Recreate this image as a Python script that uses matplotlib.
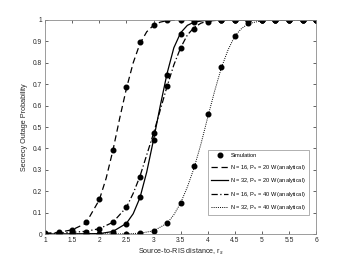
import numpy as np
import matplotlib
matplotlib.use("Agg")
import matplotlib.pyplot as plt

plt.rcParams['font.family'] = ['Liberation Sans', 'DejaVu Sans']

# simulation points (every 0.25 from 1 to 6)
x_sim = np.arange(1, 6.01, 0.25)
sim_16_20 = [0.003, 0.008, 0.02, 0.055, 0.165, 0.395, 0.685, 0.895, 0.978, 0.998, 1, 1,
             1, 1, 1, 1, 1, 1, 1, 1, 1]
sim_32_20 = [0, 0, 0, 0.001, 0.002, 0.01, 0.045, 0.174, 0.44, 0.745, 0.935, 0.99,
             1, 1, 1, 1, 1, 1, 1, 1, 1]
sim_16_40 = [0.002, 0.005, 0.01, 0.012, 0.022, 0.055, 0.127, 0.268, 0.47, 0.693, 0.868, 0.958,
             0.99, 1, 1, 1, 1, 1, 1, 1, 1]
sim_32_40 = [0, 0, 0, 0, 0, 0, 0.001, 0.003, 0.015, 0.052, 0.146, 0.319,
             0.56, 0.78, 0.925, 0.985, 1, 1, 1, 1, 1]

# analytical curves
xa_16_20 = [1, 1.25, 1.5, 1.75, 2, 2.125, 2.25, 2.375, 2.5, 2.625, 2.75, 2.875, 3, 3.125, 3.25, 3.5, 6]
ya_16_20 = [0.003, 0.008, 0.02, 0.05, 0.16, 0.26, 0.39, 0.54, 0.68, 0.80, 0.89, 0.945, 0.975, 0.99, 0.997, 1, 1]

xa_32_20 = [1, 2, 2.25, 2.5, 2.625, 2.75, 2.875, 3, 3.125, 3.25, 3.375, 3.5, 3.625, 3.75, 4, 6]
ya_32_20 = [0, 0.002, 0.012, 0.05, 0.095, 0.17, 0.29, 0.44, 0.60, 0.75, 0.87, 0.94, 0.975, 0.99, 1, 1]

xa_16_40 = [1, 1.5, 1.75, 2, 2.25, 2.5, 2.625, 2.75, 2.875, 3, 3.125, 3.25, 3.375, 3.5, 3.625, 3.75, 3.875, 4, 4.25, 6]
ya_16_40 = [0.002, 0.008, 0.013, 0.025, 0.055, 0.125, 0.19, 0.27, 0.37, 0.47, 0.58, 0.69, 0.79, 0.87, 0.93, 0.965, 0.985, 0.995, 1, 1]

xa_32_40 = [1, 2.5, 2.75, 3, 3.25, 3.375, 3.5, 3.625, 3.75, 3.875, 4, 4.125, 4.25, 4.375, 4.5, 4.625, 4.75, 5, 5.25, 6]
ya_32_40 = [0, 0.001, 0.004, 0.015, 0.05, 0.09, 0.145, 0.22, 0.31, 0.42, 0.545, 0.665, 0.775, 0.86, 0.925, 0.96, 0.983, 0.997, 1, 1]

labels = ["N = 16, P$_s$ = 20 W (analytical)",
          "N = 32, P$_s$ = 20 W (analytical)",
          "N = 16, P$_s$ = 40 W (analytical)",
          "N = 32, P$_s$ = 40 W (analytical)"]

fig = plt.figure(figsize=(3.5, 2.63), dpi=100)
ax = fig.add_axes([0.129, 0.110, 0.774, 0.814])

lw = 0.9
ms = 3.3
h_sim, = ax.plot(x_sim, sim_16_20, 'o', color='k', ms=ms, ls='none', label="Simulation")
for s in (sim_32_20, sim_16_40, sim_32_40):
    ax.plot(x_sim, s, 'o', color='k', ms=ms, ls='none')

h1, = ax.plot(xa_16_20, ya_16_20, color='k', lw=lw, ls=(0, (5, 3)), label=labels[0])
h2, = ax.plot(xa_32_20, ya_32_20, color='k', lw=lw, ls='-', label=labels[1])
h3, = ax.plot(xa_16_40, ya_16_40, color='k', lw=lw, ls=(0, (5, 2, 1, 2)), label=labels[2])
h4, = ax.plot(xa_32_40, ya_32_40, color='k', lw=0.7, ls=(0, (1, 1.2)), label=labels[3])

ax.set_xlim(1, 6)
ax.set_ylim(0, 1)
ax.set_xticks(np.arange(1, 6.01, 0.5))
ax.set_xticklabels(["1", "1.5", "2", "2.5", "3", "3.5", "4", "4.5", "5", "5.5", "6"])
ax.set_yticks(np.arange(0, 1.01, 0.1))
ax.set_yticklabels(["0", "0.1", "0.2", "0.3", "0.4", "0.5", "0.6", "0.7", "0.8", "0.9", "1"])
ax.tick_params(direction='in', top=True, right=True, length=2.5, width=0.5,
               labelsize=4.8, colors='#262626', pad=2)
for sp in ax.spines.values():
    sp.set_color('#8c8c8c')
    sp.set_linewidth(0.6)

ax.set_xlabel("Source-to-RIS distance, r$_s$", fontsize=5.2, color='#262626', labelpad=2)
ax.set_ylabel("Secrecy Outage Probability", fontsize=5.2, color='#262626', labelpad=4)

leg = ax.legend(handles=[h_sim, h1, h2, h3, h4], loc='lower right',
                bbox_to_anchor=(0.985, 0.075), fontsize=4.1, frameon=True,
                fancybox=False, handlelength=3.0, borderpad=0.5, labelspacing=0.8,
                handletextpad=0.4)
leg.get_frame().set_edgecolor('#8c8c8c')
leg.get_frame().set_linewidth(0.6)

fig.savefig("out.png", dpi=100)
